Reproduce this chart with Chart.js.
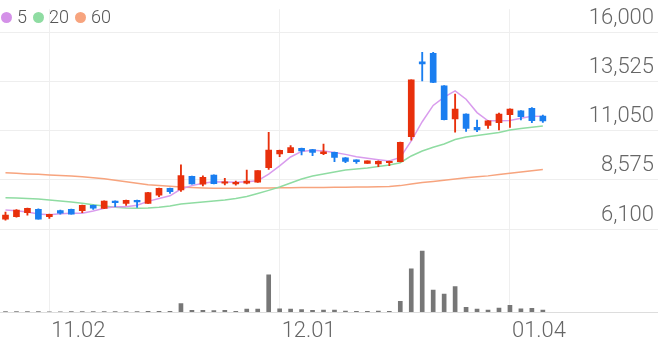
<!DOCTYPE html>
<html>
<head>
<meta charset="utf-8">
<script src="https://cdn.jsdelivr.net/npm/chart.js@4.4.0/dist/chart.umd.min.js"></script>
<style>
  body { margin: 0; background: #fff; }
  #wrap { position: relative; width: 658px; height: 342px; }
  .legend { position: absolute; left: 1px; top: 5px; font: 300 18px Roboto, sans-serif; color: #555; display: flex; align-items: center; line-height: 24px; }
  .legend i { display: inline-block; width: 11px; height: 11px; border-radius: 50%; margin-right: 5px; }
  .legend span { margin-right: 6px; }
</style>
</head>
<body>
<div id="wrap">
  <canvas id="chart" width="658" height="342"></canvas>
  <div class="legend">
    <i style="background:#d491e8"></i><span>5</span>
    <i style="background:#8fdca2"></i><span>20</span>
    <i style="background:#f7a47e"></i><span>60</span>
  </div>
</div>
<script>
// 일별 시세 (10.27 ~ 01.07)
const dates = ['10.27','10.28','10.29','10.30',
  '11.02','11.03','11.04','11.05','11.06','11.09','11.10','11.11','11.12','11.13',
  '11.16','11.17','11.18','11.19','11.20','11.23','11.24','11.25','11.26','11.27','11.30',
  '12.01','12.02','12.03','12.04','12.07','12.08','12.09','12.10','12.11',
  '12.14','12.15','12.16','12.17','12.18','12.21','12.22','12.23','12.24',
  '12.28','12.29','12.30',
  '01.04','01.05','01.06','01.07'];

const opens = [6600,6720,6920,7090,6720,7020,7090,7020,7290,7140,
  7500,7390,7540,7390,7800,8150,8060,8750,8350,8810,
  8400,8360,8400,8450,9180,9870,9930,10150,10090,9880,
  9950,9680,9570,9400,9370,9430,9480,10740,14500,14930,
  13300,11630,11880,11210,11310,11440,11840,12040,12160,11780];
const highs = [6950,7080,7150,7120,6850,7050,7100,7300,7300,7520,
  7510,7550,7550,7940,8160,8160,9320,8760,8770,8820,
  8650,8510,9060,9040,10960,10060,10290,10170,10100,10370,
  9970,9690,9570,9530,9520,9510,10470,13600,14980,14980,
  13310,12880,11890,11580,11550,11930,12140,12050,12200,11830];
const lows = [6550,6700,6800,6590,6630,6850,6840,6920,7090,7120,
  7220,7290,7190,7380,7720,7890,7990,8350,8270,8360,
  8310,8300,8360,8440,9100,9730,9930,9820,9780,9830,
  9480,9430,9400,9390,9230,9280,9470,10570,13540,13460,
  11580,10970,11010,10990,11160,11080,11210,11580,11440,11460];
const closes = [6800,7050,7140,6600,6840,6890,6850,7290,7150,7500,
  7420,7540,7460,7930,8150,7970,8780,8360,8700,8380,
  8460,8450,8510,9030,10070,10050,10190,10020,9950,9980,
  9700,9500,9480,9520,9500,9500,10460,13600,14400,13470,
  11590,12130,11160,11080,11540,11880,12130,11740,11540,11530];

// 이동평균선
const ma5 = [7050,7020,6950,6850,6820,6870,6890,6890,7000,7140,
  7220,7220,7290,7490,7630,7770,8110,8280,8400,8480,
  8460,8450,8480,8530,8860,9270,9720,10000,10060,10020,
  9950,9850,9730,9650,9580,9520,9700,10530,11490,12310,
  12730,13040,12620,11950,11540,11540,11550,11670,11770,11760];
const ma20 = [7670,7660,7630,7610,7560,7510,7460,7390,7320,7260,
  7190,7150,7140,7150,7190,7260,7360,7410,7460,7510,
  7560,7630,7730,7880,8040,8210,8410,8610,8760,8860,
  8960,9060,9120,9170,9240,9320,9430,9770,10020,10210,
  10370,10600,10720,10800,10870,10950,11080,11150,11210,11280];
const ma60 = [8930,8900,8870,8850,8820,8790,8760,8720,8680,8620,
  8550,8470,8400,8320,8280,8250,8210,8180,8160,8150,
  8150,8150,8150,8160,8160,8170,8170,8180,8190,8190,
  8200,8200,8210,8210,8220,8240,8280,8360,8440,8490,
  8550,8610,8670,8720,8770,8840,8900,8960,9030,9090];

// 거래량 (상대값)
const volumes = [5,5,5,5,3,3,5,5,8,8,
  8,8,8,12,12,10,136,27,27,22,
  27,11,49,49,610,54,49,38,27,33,
  33,16,11,11,16,11,174,707,1000,359,
  293,418,76,49,33,65,109,54,60,33];

const yTicks = [6100, 8575, 11050, 13525, 16000];
const xTickIdx = [4, 25, 46];

const RED = '#e8300c';
const BLUE = '#1a7ef0';
const candleColors = closes.map((c, i) => c >= opens[i] ? RED : BLUE);

const ctx = document.getElementById('chart').getContext('2d');
new Chart(ctx, {
    type: 'bar',
    data: {
        datasets: [
            {
                label: 'body',
                data: opens.map((o, i) => ({ x: i, y: [o, closes[i]] })),
                backgroundColor: candleColors,
                barThickness: 6,
                minBarLength: 1.5,
                grouped: false,
                order: 0
            },
            {
                label: 'wick',
                data: lows.map((l, i) => ({ x: i, y: [l, highs[i]] })),
                backgroundColor: candleColors,
                barThickness: 1.2,
                grouped: false,
                order: 1
            },
            {
                type: 'line',
                label: '5',
                data: ma5.map((v, i) => ({ x: i, y: v })),
                borderColor: '#d99ced',
                borderWidth: 1.5,
                pointRadius: 0,
                order: 2
            },
            {
                type: 'line',
                label: '20',
                data: ma20.map((v, i) => ({ x: i, y: v })),
                borderColor: '#8fdca2',
                borderWidth: 1.5,
                pointRadius: 0,
                order: 3
            },
            {
                type: 'line',
                label: '60',
                data: ma60.map((v, i) => ({ x: i, y: v })),
                borderColor: '#f7a47e',
                borderWidth: 1.5,
                pointRadius: 0,
                order: 4
            },
            {
                label: 'volume',
                data: volumes.map((v, i) => ({ x: i, y: v })),
                yAxisID: 'yv',
                backgroundColor: '#777777',
                barThickness: 4,
                grouped: false,
                order: 5
            }
        ]
    },
    options: {
        responsive: false,
        animation: false,
        devicePixelRatio: 1,
        layout: { padding: 0, autoPadding: false },
        plugins: {
            legend: { display: false },
            tooltip: { enabled: false }
        },
        scales: {
            x: {
                type: 'linear',
                offset: false,
                min: -0.5,
                max: 59.5,
                afterBuildTicks: axis => { axis.ticks = xTickIdx.map(v => ({ value: v })); },
                afterFit: axis => { axis.height = 30; },
                ticks: {
                    callback: v => dates[v],
                    align: 'start',
                    labelOffset: 2,
                    padding: 8,
                    maxRotation: 0,
                    autoSkip: false,
                    color: '#666',
                    font: { family: 'Roboto', size: 22, weight: 300, lineHeight: 1 }
                },
                grid: { color: '#efefef', offset: false, drawTicks: false, tickLength: 0 },
                border: { color: '#dddddd' }
            },
            y: {
                position: 'right',
                min: 1929,
                max: 17146,
                afterBuildTicks: axis => { axis.ticks = yTicks.map(v => ({ value: v })); },
                ticks: {
                    mirror: true,
                    padding: -4,
                    labelOffset: -14,
                    callback: v => v.toLocaleString('en-US'),
                    color: '#666',
                    font: { family: 'Roboto', size: 22, weight: 300 }
                },
                grid: { color: '#eeeeee', drawTicks: false, tickLength: 0 },
                border: { display: false }
            },
            yv: {
                display: false,
                min: 0,
                max: 4964
            }
        }
    }
});
</script>
</body>
</html>
